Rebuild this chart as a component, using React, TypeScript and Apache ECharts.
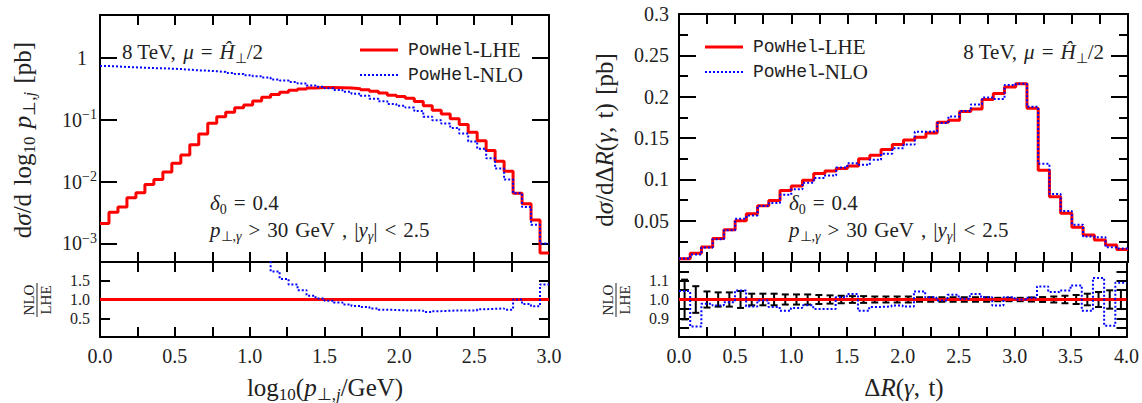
import React, { useEffect, useRef } from "react";
import * as echarts from "echarts";

// ---------- data ----------
// left panel: log10(p_T,j/GeV), 50 bins of width 0.06 from 0 to 3
const ptBinWidth = 0.06;
const lhePt = [
  0.0021, 0.0032, 0.0039, 0.0055, 0.0066, 0.009, 0.0108, 0.0143, 0.0198, 0.027,
  0.0395, 0.059, 0.088, 0.113, 0.133, 0.158, 0.175, 0.202, 0.233, 0.257,
  0.28, 0.301, 0.316, 0.328, 0.336, 0.336, 0.332, 0.328, 0.32, 0.309,
  0.29, 0.273, 0.251, 0.239, 0.224, 0.199, 0.169, 0.143, 0.125, 0.104,
  0.084, 0.063, 0.046, 0.032, 0.0215, 0.0148, 0.0065, 0.0044, 0.0024, 0.0007,
];
const nloPt = [
  0.745, 0.736, 0.72, 0.71, 0.7, 0.69, 0.685, 0.676, 0.667, 0.65,
  0.635, 0.628, 0.613, 0.598, 0.576, 0.556, 0.529, 0.51, 0.486, 0.45,
  0.434, 0.41, 0.39, 0.36, 0.345, 0.326, 0.305, 0.285, 0.266, 0.247,
  0.22, 0.2, 0.181, 0.17, 0.159, 0.139, 0.113, 0.099, 0.0875, 0.074,
  0.06, 0.0447, 0.034, 0.024, 0.0163, 0.0108, 0.0065, 0.0039, 0.002, 0.001,
];
const ratioPt = [
  null, null, null, null, null, null, null, null, null, null,
  null, null, null, null, null, null, null, null, 2.1, 1.75,
  1.55, 1.4, 1.25, 1.1, 1.03, 0.97, 0.92, 0.87, 0.83, 0.8,
  0.76, 0.73, 0.72, 0.71, 0.71, 0.7, 0.67, 0.69, 0.7, 0.71,
  0.71, 0.71, 0.74, 0.75, 0.76, 0.73, 1.0, 0.88, 0.82, 1.4,
];

// right panel: DeltaR(gamma, t), 40 bins of width 0.1 from 0 to 4
const drBinWidth = 0.1;
const lheDR = [
  0.004, 0.0105, 0.018, 0.0285, 0.039, 0.05, 0.0585, 0.068, 0.0745, 0.0865,
  0.092, 0.099, 0.107, 0.11, 0.113, 0.116, 0.125, 0.129, 0.136, 0.142,
  0.1475, 0.151, 0.156, 0.169, 0.1716, 0.182, 0.185, 0.1965, 0.2037, 0.2117,
  0.2157, 0.186, 0.111, 0.079, 0.059, 0.042, 0.0327, 0.0267, 0.0207, 0.015,
];
const nloDR = [
  0.0042, 0.009, 0.0176, 0.0276, 0.0385, 0.0524, 0.0563, 0.0677, 0.0715, 0.0813,
  0.0879, 0.096, 0.1017, 0.1045, 0.1144, 0.1195, 0.1175, 0.1238, 0.131, 0.1375,
  0.142, 0.1575, 0.158, 0.168, 0.176, 0.1827, 0.1906, 0.1989, 0.1972, 0.2142,
  0.2157, 0.1879, 0.1188, 0.0822, 0.0618, 0.0452, 0.0307, 0.0298, 0.0178, 0.0164,
];
const ratioDR = [
  1.045, 0.856, 0.977, 0.968, 0.986, 1.048, 0.963, 0.995, 0.96, 0.94,
  0.955, 0.97, 0.95, 0.95, 1.012, 1.03, 0.94, 0.96, 0.963, 0.968,
  0.963, 1.043, 1.012, 0.995, 1.025, 1.004, 1.03, 1.012, 0.968, 1.012,
  1.0, 1.01, 1.07, 1.04, 1.048, 1.075, 0.94, 1.115, 0.86, 1.09,
];
const errDR = [
  0.106, 0.071, 0.043, 0.038, 0.038, 0.045, 0.031, 0.031, 0.031, 0.027,
  0.027, 0.027, 0.024, 0.022, 0.02, 0.018, 0.018, 0.016, 0.016, 0.016,
  0.016, 0.012, 0.012, 0.012, 0.012, 0.012, 0.012, 0.012, 0.009, 0.009,
  0.009, 0.011, 0.013, 0.016, 0.02, 0.024, 0.031, 0.04, 0.049, 0.051,
];

const SERIF = "Liberation Serif";
const MONO = "Liberation Mono";
const RED = "#ff0000";
const BLUE = "#0000ff";
const INK = "#222";
const EN = "\u2002"; // en space for math spacing
const TH = "\u2004"; // three-per-em space

// histogram step points: edge_i -> value_i, final edge repeats the last value
function hist(vals: (number | null)[], w: number) {
  const pts: any[] = vals.map((v, i) => [+(i * w).toFixed(4), v]);
  pts.push([+(vals.length * w).toFixed(4), vals[vals.length - 1]]);
  return pts;
}

const FS = 21; // annotation text
const FT = 20; // tick labels
const FA = 25; // axis titles
const rich: any = {
  r: { fontFamily: SERIF, fontSize: FS, lineHeight: 26, fill: INK },
  i: { fontFamily: SERIF, fontSize: FS, fontStyle: "italic", lineHeight: 26, fill: INK },
  sub: { fontFamily: SERIF, fontSize: 14, lineHeight: 14, verticalAlign: "bottom", fill: INK },
  subi: { fontFamily: SERIF, fontSize: 14, fontStyle: "italic", lineHeight: 14, verticalAlign: "bottom", fill: INK },
  tt: { fontFamily: MONO, fontSize: 18, lineHeight: 26, fill: INK },
  R: { fontFamily: SERIF, fontSize: FA, lineHeight: 32, fill: INK },
  I: { fontFamily: SERIF, fontSize: FA, fontStyle: "italic", lineHeight: 32, fill: INK },
  SUB: { fontFamily: SERIF, fontSize: 17, lineHeight: 17, verticalAlign: "bottom", fill: INK },
  SUBI: { fontFamily: SERIF, fontSize: 17, fontStyle: "italic", lineHeight: 17, verticalAlign: "bottom", fill: INK },
};

function txt(x: number, y: number, text: string, align = "left", rotation = 0) {
  return {
    type: "text",
    x,
    y,
    rotation,
    style: {
      text,
      rich,
      fontFamily: SERIF,
      align,
      verticalAlign: "middle",
      textAlign: align,
      textVerticalAlign: "middle",
    },
  };
}

function fraction(cx: number, cy: number) {
  const st = { fontFamily: SERIF, fontSize: 15, lineHeight: 15, fill: INK };
  return {
    type: "group",
    x: cx,
    y: cy,
    rotation: Math.PI / 2,
    children: [
      { type: "text", x: 0, y: -8, style: { ...st, text: "NLO", align: "center", verticalAlign: "middle", textAlign: "center", textVerticalAlign: "middle" } },
      { type: "line", shape: { x1: -17, y1: 0, x2: 17, y2: 0 }, style: { stroke: INK, lineWidth: 1 } },
      { type: "text", x: 0, y: 9, style: { ...st, text: "LHE", align: "center", verticalAlign: "middle", textAlign: "center", textVerticalAlign: "middle" } },
    ],
  };
}

function legendItem(x: number, y: number, color: string, dashed: boolean, label: string) {
  return [
    {
      type: "line",
      shape: { x1: x, y1: y, x2: x + 38, y2: y },
      style: dashed
        ? { stroke: color, lineWidth: 2, lineDash: [2, 2] }
        : { stroke: color, lineWidth: 3 },
    },
    txt(x + 48, y, `{tt|PowHel}{r|-${label}}`),
  ];
}

const TEV = `{r|8 TeV,${TH}}{i|μ}{r|${TH}=${TH}}{i|Ĥ}{sub|⊥}{r|/2}`;
const DELTA = `{i|δ}{sub|0}{r|${TH}=${TH}0.4}`;
const CUTS = `{i|p}{sub|⊥,}{subi|γ}{r|${TH}>${TH}30${TH}GeV${TH},${TH}|}{i|y}{subi|γ}{r||${TH}<${TH}2.5}`;

const lineCol = { color: "#000", width: 2 };

function xAx(grid: number, pos: "bottom" | "top", max: number, labels: boolean) {
  return {
    type: "value",
    gridIndex: grid,
    position: pos,
    min: 0,
    max,
    interval: 0.5,
    axisLine: { show: true, onZero: false, lineStyle: lineCol },
    axisTick: { show: true, inside: true, length: 10, lineStyle: lineCol },
    minorTick: { show: true, splitNumber: 2, length: 10, lineStyle: lineCol },
    splitLine: { show: false },
    axisLabel: labels
      ? {
          show: true,
          margin: 9,
          fontFamily: SERIF,
          fontSize: FT,
          color: INK,
          showMinLabel: true,
          showMaxLabel: true,
          formatter: (v: number) => v.toFixed(1),
        }
      : { show: false },
  };
}

function yAx(grid: number, pos: "left" | "right", extra: any, labels: any) {
  return {
    gridIndex: grid,
    position: pos,
    axisLine: { show: true, onZero: false, lineStyle: lineCol },
    splitLine: { show: false },
    ...extra,
    axisLabel: labels ? labels : { show: false },
  };
}

export default function App() {
  const ref = useRef<HTMLDivElement>(null);
  useEffect(() => {
    if (!ref.current) return;
    const chart = echarts.init(ref.current, undefined, { renderer: "svg" });

    const logY = {
      type: "log",
      min: 5e-4,
      max: 5,
      logBase: 10,
      axisTick: { show: true, inside: true, length: 17, lineStyle: lineCol },
    };
    const ratioYL = {
      type: "value",
      min: 0,
      max: 2,
      interval: 0.5,
      axisTick: { show: true, inside: true, length: 10, lineStyle: lineCol },
    };
    const drY = {
      type: "value",
      min: 0,
      max: 0.3,
      interval: 0.05,
      axisTick: { show: true, inside: true, length: 17, lineStyle: lineCol },
      minorTick: { show: true, splitNumber: 2, length: 9, lineStyle: lineCol },
    };
    const ratioYR = {
      type: "value",
      min: 0.8,
      max: 1.2,
      interval: 0.1,
      axisTick: { show: true, inside: true, length: 10, lineStyle: lineCol },
      minorTick: { show: true, splitNumber: 2, length: 10, lineStyle: lineCol },
    };
    const lab = (fmt: any, margin = 10, extra: any = {}) => ({
      show: true,
      margin,
      fontFamily: SERIF,
      fontSize: FT,
      color: INK,
      showMinLabel: false,
      showMaxLabel: false,
      formatter: fmt,
      ...extra,
    });

    const option: any = {
      animation: false,
      backgroundColor: "#fff",
      grid: [
        { left: 100, top: 15, width: 449, height: 247 },
        { left: 100, top: 262, width: 449, height: 75 },
        { left: 679, top: 14, width: 449, height: 248 },
        { left: 679, top: 262, width: 449, height: 75 },
      ],
      xAxis: [
        xAx(0, "bottom", 3, false),
        xAx(0, "top", 3, false),
        xAx(1, "bottom", 3, true),
        xAx(1, "top", 3, false),
        xAx(2, "bottom", 4, false),
        xAx(2, "top", 4, false),
        xAx(3, "bottom", 4, true),
        xAx(3, "top", 4, false),
      ],
      yAxis: [
        yAx(0, "left", logY, lab((v: number) => {
          const e = Math.round(Math.log10(v));
          if (e === 0) return "{one|1}";
          return `{b|10}{s|−${-e}}`;
        }, 3, {
          rich: {
            one: { fontFamily: SERIF, fontSize: FT, lineHeight: 24, padding: [0, 10, 0, 0], color: INK },
            b: { fontFamily: SERIF, fontSize: FT, lineHeight: 24, color: INK },
            s: { fontFamily: SERIF, fontSize: 14, lineHeight: 14, verticalAlign: "top", color: INK },
          },
        })),
        yAx(0, "right", logY, null),
        yAx(1, "left", ratioYL, lab((v: number) => v.toFixed(1), 10, { fontSize: 16, lineHeight: 14 })),
        yAx(1, "right", ratioYL, null),
        yAx(2, "left", drY, lab((v: number) => String(Math.round(v * 100) / 100), 10, { showMaxLabel: true })),
        yAx(2, "right", drY, null),
        yAx(3, "left", ratioYR, lab((v: number) => v.toFixed(1), 10, { fontSize: 16, lineHeight: 14 })),
        yAx(3, "right", ratioYR, null),
      ],
      series: [
        {
          name: "PowHel-LHE",
          type: "line",
          xAxisIndex: 0,
          yAxisIndex: 0,
          step: "end",
          symbol: "none",
          lineStyle: { color: RED, width: 3 },
          data: hist(lhePt, ptBinWidth),
          z: 2,
        },
        {
          name: "PowHel-NLO",
          type: "line",
          xAxisIndex: 0,
          yAxisIndex: 0,
          step: "end",
          symbol: "none",
          lineStyle: { color: BLUE, width: 2, type: [2, 2] },
          data: hist(nloPt, ptBinWidth),
          z: 3,
        },
        {
          type: "line",
          xAxisIndex: 2,
          yAxisIndex: 2,
          symbol: "none",
          lineStyle: { color: RED, width: 3 },
          data: [[0, 1], [3, 1]],
          z: 2,
        },
        {
          type: "line",
          xAxisIndex: 2,
          yAxisIndex: 2,
          step: "end",
          symbol: "none",
          clip: true,
          lineStyle: { color: BLUE, width: 2, type: [2, 2] },
          data: hist(ratioPt, ptBinWidth),
          z: 3,
        },
        {
          type: "line",
          xAxisIndex: 4,
          yAxisIndex: 4,
          step: "end",
          symbol: "none",
          lineStyle: { color: RED, width: 3 },
          data: hist(lheDR, drBinWidth),
          z: 2,
        },
        {
          type: "line",
          xAxisIndex: 4,
          yAxisIndex: 4,
          step: "end",
          symbol: "none",
          lineStyle: { color: BLUE, width: 2, type: [2, 2] },
          data: hist(nloDR, drBinWidth),
          z: 3,
        },
        {
          type: "custom",
          xAxisIndex: 6,
          yAxisIndex: 6,
          data: errDR.map((e, i) => [+(i * drBinWidth + drBinWidth / 2).toFixed(3), 1 - e, 1 + e]),
          renderItem: (params: any, api: any) => {
            const x = api.value(0);
            const lo = api.coord([x, api.value(1)]);
            const hi = api.coord([x, api.value(2)]);
            const hw = 3.5;
            const st = { stroke: "#000", lineWidth: 2 };
            return {
              type: "group",
              children: [
                { type: "line", shape: { x1: lo[0], y1: lo[1], x2: hi[0], y2: hi[1] }, style: st },
                { type: "line", shape: { x1: lo[0] - hw, y1: lo[1], x2: lo[0] + hw, y2: lo[1] }, style: st },
                { type: "line", shape: { x1: hi[0] - hw, y1: hi[1], x2: hi[0] + hw, y2: hi[1] }, style: st },
              ],
            };
          },
          z: 2,
        },
        {
          type: "line",
          xAxisIndex: 6,
          yAxisIndex: 6,
          symbol: "none",
          lineStyle: { color: RED, width: 3 },
          data: [[0, 1], [4, 1]],
          z: 3,
        },
        {
          type: "line",
          xAxisIndex: 6,
          yAxisIndex: 6,
          step: "end",
          symbol: "none",
          lineStyle: { color: BLUE, width: 2, type: [2, 2] },
          data: hist(ratioDR, drBinWidth),
          z: 4,
        },
      ],
      graphic: [
        // left panel annotations
        txt(122, 52, TEV),
        ...legendItem(360, 50, RED, false, "LHE"),
        ...legendItem(360, 75, BLUE, true, "NLO"),
        txt(210, 203, DELTA),
        txt(210, 230, CUTS),
        // right panel annotations
        txt(1104, 52, TEV, "right"),
        ...legendItem(705, 47, RED, false, "LHE"),
        ...legendItem(705, 72, BLUE, true, "NLO"),
        txt(789, 203, DELTA),
        txt(789, 230, CUTS),
        // axis titles
        txt(22, 140, `{R|d}{I|σ}{R|/d${TH}log}{SUB|10}{I|${TH}p}{SUB|⊥,}{SUBI|j}{R|${TH}[pb]}`, "center", Math.PI / 2),
        txt(604, 140, `{R|d}{I|σ}{R|/dΔ}{I|R}{R|(}{I|γ}{R|,${TH}t)${TH}[pb]}`, "center", Math.PI / 2),
        txt(325, 387, "{R|log}{SUB|10}{R|(}{I|p}{SUB|⊥,}{SUBI|j}{R|/GeV)}", "center"),
        txt(904, 387, `{R|Δ}{I|R}{R|(}{I|γ}{R|,${TH}t)}`, "center"),
        fraction(37, 300),
        fraction(616, 300),
      ],
    };
    chart.setOption(option);
    return () => chart.dispose();
  }, []);
  return (
    <div
      ref={ref}
      style={{ position: "absolute", left: 0, top: 0, width: 1142, height: 403, background: "#fff" }}
    />
  );
}
